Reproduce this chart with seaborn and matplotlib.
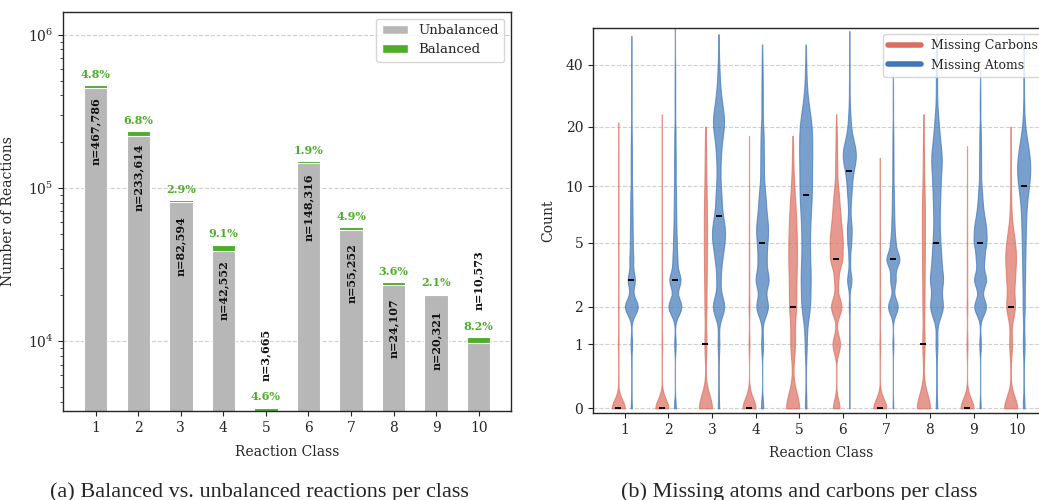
import numpy as np
import pandas as pd
import matplotlib
matplotlib.use("Agg")
import matplotlib.pyplot as plt
import seaborn as sns
from matplotlib.lines import Line2D
from matplotlib.patches import Patch

# ---------------- data: panel (a) ----------------
classes = ["1", "2", "3", "4", "5", "6", "7", "8", "9", "10"]
totals = [467786, 233614, 82594, 42552, 3665, 148316, 55252, 24107, 20321, 10573]
balanced_pct = [4.8, 6.8, 2.9, 9.1, 4.6, 1.9, 4.9, 3.6, 2.1, 8.2]

# ---------------- data: panel (b) (value, frequency) ----------------
carbons_1 = [(0, 850), (1, 40), (2, 30), (3, 20), (4, 12), (5, 10), (6, 7), (7, 5), (8, 4), (9, 3), (10, 3), (12, 2), (14, 2), (16, 1), (18, 1), (21, 1)]
atoms_1 = [(0, 30), (1, 40), (2, 330), (3, 180), (4, 90), (5, 60), (6, 45), (7, 35), (8, 30), (9, 25), (10, 20), (12, 25), (14, 20), (16, 15), (18, 12), (20, 10), (25, 10), (30, 8), (35, 6), (40, 5), (45, 3), (55, 1)]
carbons_2 = [(0, 840), (1, 40), (2, 30), (3, 22), (4, 14), (5, 10), (6, 8), (7, 6), (8, 5), (9, 4), (10, 3), (12, 3), (14, 2), (16, 2), (19, 1), (23, 1)]
atoms_2 = [(0, 40), (1, 30), (2, 270), (3, 230), (4, 90), (5, 60), (6, 40), (7, 30), (8, 25), (9, 20), (10, 20), (12, 25), (14, 20), (16, 15), (18, 12), (20, 12), (25, 12), (30, 10), (35, 8), (40, 6), (50, 3), (65, 2)]
carbons_3 = [(0, 450), (1, 70), (2, 60), (3, 60), (4, 55), (5, 50), (6, 45), (7, 35), (8, 30), (9, 25), (10, 25), (12, 25), (14, 20), (16, 15), (18, 10), (20, 5)]
atoms_3 = [(0, 15), (1, 20), (2, 130), (3, 40), (4, 60), (5, 90), (6, 90), (7, 40), (8, 30), (9, 25), (10, 25), (12, 25), (14, 25), (16, 30), (18, 35), (20, 50), (22, 50), (24, 35), (27, 30), (30, 20), (35, 15), (40, 10), (48, 5), (56, 2)]
carbons_4 = [(0, 800), (1, 50), (2, 45), (3, 25), (4, 18), (5, 14), (6, 10), (7, 8), (8, 7), (9, 5), (10, 5), (12, 4), (14, 3), (16, 2), (18, 1)]
atoms_4 = [(0, 30), (1, 25), (2, 150), (3, 160), (4, 90), (5, 90), (6, 100), (7, 60), (8, 45), (9, 35), (10, 30), (12, 30), (14, 25), (16, 20), (18, 18), (20, 15), (25, 15), (30, 12), (35, 8), (40, 6), (45, 3), (50, 2)]
carbons_5 = [(0, 300), (1, 100), (2, 130), (3, 100), (4, 100), (5, 80), (6, 60), (7, 50), (8, 35), (9, 25), (10, 20), (12, 15), (14, 10), (16, 5), (18, 3)]
atoms_5 = [(0, 20), (1, 25), (2, 90), (3, 90), (4, 55), (5, 45), (6, 40), (7, 40), (8, 40), (9, 45), (10, 40), (11, 30), (12, 30), (13, 30), (14, 30), (15, 30), (16, 30), (18, 50), (20, 45), (22, 35), (25, 30), (30, 12), (35, 8), (40, 5), (50, 2)]
carbons_6 = [(0, 90), (1, 100), (2, 140), (3, 50), (4, 140), (5, 130), (6, 90), (7, 60), (8, 45), (9, 30), (10, 25), (12, 20), (14, 15), (16, 10), (18, 8), (20, 5), (23, 2)]
atoms_6 = [(0, 5), (1, 10), (2, 20), (3, 90), (4, 30), (5, 70), (6, 80), (7, 30), (8, 30), (9, 45), (10, 55), (11, 50), (12, 70), (13, 90), (14, 100), (15, 100), (16, 70), (17, 50), (18, 45), (20, 40), (22, 25), (25, 20), (30, 12), (35, 8), (40, 6), (48, 3), (58, 2)]
carbons_7 = [(0, 820), (1, 50), (2, 40), (3, 25), (4, 18), (5, 12), (6, 9), (7, 7), (8, 6), (9, 4), (10, 3), (12, 3), (14, 2)]
atoms_7 = [(0, 15), (1, 20), (2, 200), (3, 110), (4, 260), (5, 90), (6, 50), (7, 35), (8, 25), (9, 20), (10, 18), (12, 20), (14, 15), (16, 12), (18, 10), (20, 8), (25, 8), (30, 5), (36, 2)]
carbons_8 = [(0, 460), (1, 80), (2, 60), (3, 55), (4, 50), (5, 45), (6, 40), (7, 35), (8, 30), (9, 25), (10, 22), (12, 20), (14, 15), (16, 12), (18, 8), (20, 5), (23, 3)]
atoms_8 = [(0, 20), (1, 25), (2, 160), (3, 150), (4, 90), (5, 60), (6, 40), (7, 35), (8, 35), (9, 35), (10, 35), (11, 30), (12, 35), (13, 35), (14, 35), (15, 35), (16, 30), (18, 30), (20, 25), (22, 15), (25, 12), (30, 10), (35, 8), (40, 5), (48, 3), (55, 2)]
carbons_9 = [(0, 800), (1, 55), (2, 40), (3, 25), (4, 18), (5, 14), (6, 10), (7, 8), (8, 6), (9, 5), (10, 4), (12, 3), (14, 2), (16, 1)]
atoms_9 = [(0, 15), (1, 20), (2, 150), (3, 150), (4, 90), (5, 130), (6, 110), (7, 60), (8, 35), (9, 25), (10, 20), (12, 20), (14, 15), (16, 12), (18, 10), (20, 8), (25, 8), (30, 5), (38, 2)]
carbons_10 = [(0, 280), (1, 60), (2, 175), (3, 140), (4, 160), (5, 110), (6, 40), (7, 15), (8, 10), (9, 6), (10, 5), (12, 4), (14, 3), (16, 2), (18, 1), (20, 1)]
atoms_10 = [(0, 45), (1, 45), (2, 50), (3, 50), (4, 50), (5, 50), (6, 50), (7, 50), (8, 50), (9, 55), (10, 90), (11, 80), (12, 90), (13, 80), (14, 70), (15, 55), (16, 40), (17, 35), (18, 25), (20, 20), (22, 12), (25, 10), (30, 8), (35, 5), (40, 4), (48, 3), (55, 2)]

carbons = [carbons_1, carbons_2, carbons_3, carbons_4, carbons_5, carbons_6, carbons_7, carbons_8, carbons_9, carbons_10]
atoms = [atoms_1, atoms_2, atoms_3, atoms_4, atoms_5, atoms_6, atoms_7, atoms_8, atoms_9, atoms_10]
series = ["Missing Carbons", "Missing Atoms"]
count_ticks = [0, 1, 2, 5, 10, 20, 40]

# ---------------- style ----------------
GRAY = "#b7b7b7"
GREEN = "#4cae28"
RED = "#dc6e5f"
BLUE = "#4178b9"
kde_bw = {
    "Missing Carbons": [0.18, 0.18, 0.15, 0.18, 0.2, 0.13, 0.18, 0.16, 0.18, 0.17],
    "Missing Atoms": [0.12, 0.12, 0.13, 0.14, 0.2, 0.13, 0.14, 0.15, 0.15, 0.17],
}

sns.set_style("ticks")
plt.rcParams["font.family"] = ["DejaVu Serif"]
plt.rcParams["axes.linewidth"] = 1.0
plt.rcParams["xtick.labelsize"] = 10
plt.rcParams["ytick.labelsize"] = 10

fig = plt.figure(figsize=(10.39, 5.0), dpi=100)
ax1 = fig.add_axes([0.0606, 0.178, 0.4312, 0.798])
ax2 = fig.add_axes([0.5707, 0.174, 0.4389, 0.770])

# ---------------- panel (a) ----------------
df_bar = pd.DataFrame({"cls": classes, "total": totals, "pct": balanced_pct})
df_bar["unbalanced"] = df_bar["total"] * (1 - df_bar["pct"] / 100.0)

sns.barplot(data=df_bar, x="cls", y="total", order=classes, color=GREEN, saturation=1,
            width=0.55, edgecolor="white", linewidth=0.8, ax=ax1)
sns.barplot(data=df_bar, x="cls", y="unbalanced", order=classes, color=GRAY, saturation=1,
            width=0.55, edgecolor="white", linewidth=0.8, ax=ax1)
ax1.set_yscale("log")
ax1.set_ylim(min(totals) * 0.95, max(totals) * 3)
ax1.set_xlim(-0.77, 9.76)

for i, (n, p) in enumerate(zip(totals, balanced_pct)):
    ax1.annotate(f"{p:.1f}%", (i, n), xytext=(0, 4), textcoords="offset points",
                 ha="center", va="bottom", color=GREEN, fontsize=8, fontweight="bold")
    if n > 15000:
        ax1.text(i, n / 2, f"n={n:,}", rotation=90, ha="center", va="center",
                 fontsize=8, fontweight="bold", color="#111111")
    else:
        ax1.text(i, n * 1.5, f"n={n:,}", rotation=90, ha="center", va="bottom",
                 fontsize=8, fontweight="bold", color="#111111")

ax1.yaxis.grid(True, which="major", linestyle="--", color="#d0d0d0", linewidth=0.8)
ax1.set_axisbelow(True)
ax1.set_xlabel("Reaction Class", fontsize=10)
ax1.set_ylabel("Number of Reactions", fontsize=10)
ax1.xaxis.set_label_coords(0.5, -0.085)
ax1.yaxis.set_label_coords(-0.107, 0.5)
for s in ax1.spines.values():
    s.set_visible(True)
ax1.legend(handles=[Patch(facecolor=GRAY, label="Unbalanced"), Patch(facecolor=GREEN, label="Balanced")],
           loc="upper right", fontsize=9.5, framealpha=0.8)

# ---------------- panel (b) ----------------
rows = []
for cls, carb, atm in zip(classes, carbons, atoms):
    for name, pairs in zip(series, [carb, atm]):
        vals = np.repeat([v for v, _ in pairs], [c for _, c in pairs])
        rows.append(pd.DataFrame({"cls": cls, "series": name, "value": vals}))
df = pd.concat(rows, ignore_index=True)
df["logv"] = np.log1p(df["value"])

for i, cls in enumerate(classes):
    for name in series:
        sub = df[(df["cls"] == cls) & (df["series"] == name)]
        sns.violinplot(data=sub, x="cls", y="logv", hue="series", order=classes, hue_order=series,
                       palette=[RED, BLUE], saturation=1, cut=0, inner=None, density_norm="width",
                       width=0.6, dodge=True, bw_method=kde_bw[name][i], alpha=0.7, linewidth=0.8,
                       legend=False, ax=ax2)
for c in ax2.collections:
    c.set_edgecolor(c.get_facecolor())

sns.pointplot(data=df, x="cls", y="logv", hue="series", order=classes, hue_order=series,
              estimator="median", errorbar=None, dodge=0.3, markers="_", linestyles="none",
              palette=["black", "black"], markersize=5, markeredgewidth=1.4, legend=False, ax=ax2)

ax2.set_yticks(np.log1p(count_ticks))
ax2.set_yticklabels([str(t) for t in count_ticks])
ax2.set_ylim(-0.05, 4.11)
ax2.set_xlim(-0.73, 9.73)
ax2.yaxis.grid(True, linestyle="--", color="#d0d0d0", linewidth=0.8)
ax2.set_axisbelow(True)
ax2.set_xlabel("Reaction Class", fontsize=10)
ax2.set_ylabel("Count", fontsize=10)
ax2.xaxis.set_label_coords(0.5, -0.086)
ax2.yaxis.set_label_coords(-0.083, 0.5)
for s in ax2.spines.values():
    s.set_visible(True)
ax2.legend(handles=[Line2D([0], [0], color=RED, lw=4), Line2D([0], [0], color=BLUE, lw=4)],
           labels=series, loc="upper right", fontsize=9, handlelength=2.6, framealpha=0.8)

# ---------------- captions ----------------
fig.text(0.250, 0.006, "(a) Balanced vs. unbalanced reactions per class", ha="center", va="baseline",
         fontsize=16, family=["Liberation Serif", "DejaVu Serif"])
fig.text(0.769, 0.006, "(b) Missing atoms and carbons per class", ha="center", va="baseline",
         fontsize=16, family=["Liberation Serif", "DejaVu Serif"])

fig.savefig("out.png", dpi=100)
